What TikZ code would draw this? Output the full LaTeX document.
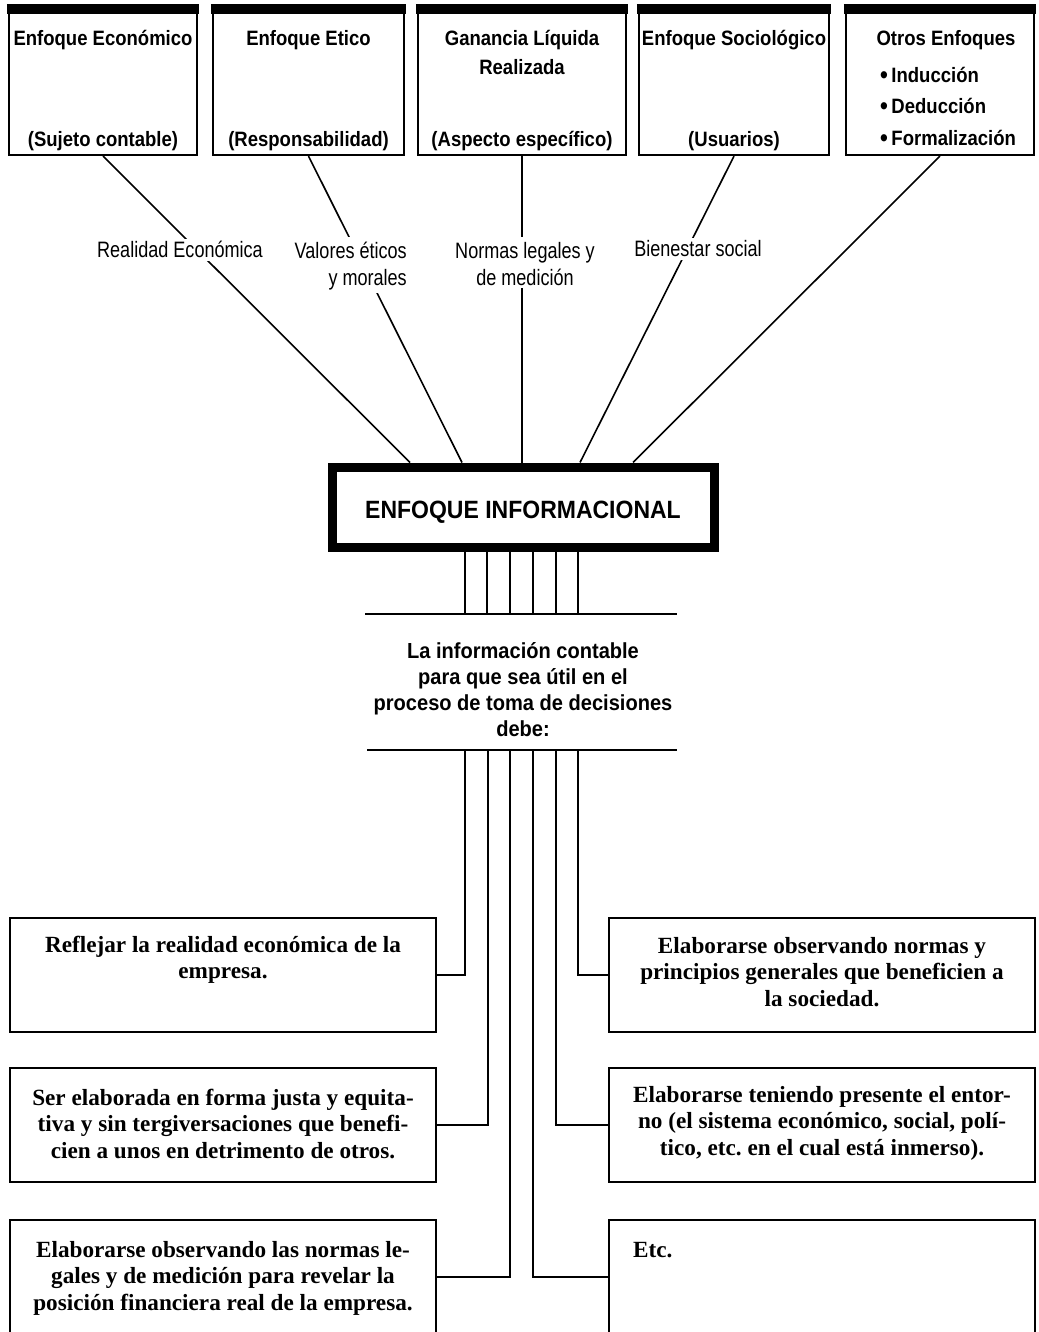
\documentclass[tikz,border=0pt]{standalone}
\usepackage{fontspec}
\newfontfamily\fhbold[FakeStretch=0.89]{Liberation Sans}
\newfontfamily\fhmid[FakeStretch=0.92]{Liberation Sans}
\newfontfamily\fhlight[FakeStretch=0.81]{Liberation Sans}
\newfontfamily\fserif{Liberation Serif}
\newcommand{\bigbul}{\raisebox{-0.5pt}{\fontsize{25}{25}\selectfont•}}
\begin{document}
\begin{tikzpicture}[x=1pt,y=-1pt,
  topbox/.style={draw,line width=2.2pt,inner sep=0pt,minimum width=#1,minimum height=145pt},
  lowbox/.style={draw,line width=2.2pt,inner sep=0pt,minimum width=426pt,minimum height=114pt},
  openbox/.style={inner sep=0pt,minimum width=426pt,minimum height=114pt},
  toptext/.style={inner sep=0pt,anchor=base,font=\fhbold\bfseries\fontsize{20.8}{23}\selectfont},
  lbl/.style={fill=white,inner sep=3pt,font=\fhlight\fontsize{22.3}{27}\selectfont},
  conn/.style={line width=1.6pt},
  link/.style={line width=2pt},
  serift/.style={inner sep=0pt,anchor=north,align=center,font=\fserif\bfseries\fontsize{23.2}{26.5}\selectfont}]
\fill[white] (0,0) rectangle (1038,1332);
\useasboundingbox (0,0) rectangle (1038,1332);

% top boxes
\node[topbox=188pt] (b1) at (103,82.5) {};
\node[topbox=191pt] (b2) at (308.5,82.5) {};
\node[topbox=208pt] (b3) at (522,82.5) {};
\node[topbox=190pt] (b4) at (734,82.5) {};
\node[topbox=188pt] (b5) at (940,82.5) {};
\foreach \b in {b1,b2,b3,b4,b5}
  \draw[line width=10pt] ([xshift=-1.1pt]\b.north west) -- ([xshift=1.1pt]\b.north east);

\node[toptext] (t1a) at (103,46) {Enfoque Económico};
\node[toptext] (t1b) at (103,147) {(Sujeto contable)};
\node[toptext] (t2a) at (308.5,46) {Enfoque Etico};
\node[toptext] (t2b) at (308.5,147) {(Responsabilidad)};
\node[toptext] (t3a) at (522,46) {Ganancia Líquida};
\node[toptext] (t3b) at (522,75) {Realizada};
\node[toptext] (t3c) at (522,147) {(Aspecto específico)};
\node[toptext] (t4a) at (734,46) {Enfoque Sociológico};
\node[toptext] (t4b) at (734,147) {(Usuarios)};
\node[toptext] (t5a) at (946,46) {Otros Enfoques};
\node[toptext,anchor=base west] (t5b) at (880,83) {\bigbul\,Inducción};
\node[toptext,anchor=base west] (t5c) at (880,114) {\bigbul\,Deducción};
\node[toptext,anchor=base west] (t5d) at (880,146) {\bigbul\,Formalización};

% central box
\node[draw,line width=9pt,inner sep=0pt,minimum width=382pt,minimum height=80pt] (info) at (523,507) {};
\node[inner sep=0pt,anchor=base,font=\fhmid\bfseries\fontsize{25}{28}\selectfont] (infot) at (523,518) {ENFOQUE INFORMACIONAL};

% connectors from top boxes
\draw[conn] (b1.south) -- ([xshift=-113pt]info.north);
\draw[conn] (b2.south) -- ([xshift=-61pt]info.north);
\draw[conn] (b3.south) -- ([xshift=-1pt]info.north);
\draw[conn] (b4.south) -- ([xshift=57pt]info.north);
\draw[conn] (b5.south) -- ([xshift=110pt]info.north);

% labels on connectors
\node[lbl,anchor=base] (l1) at (180,258) {Realidad Económica};
\node[lbl,anchor=north east,align=right] (l2) at (410,237) {\rule{0pt}{18pt}Valores éticos\\y morales};
\node[lbl,anchor=north,align=center] (l3) at (525,237) {\rule{0pt}{18pt}Normas legales y\\de medición};
\node[lbl,anchor=base] (l4) at (698,257) {Bienestar social};

% middle block
\coordinate (h1a) at (365,614);
\coordinate (h1b) at (677,614);
\coordinate (h2a) at (367,750);
\coordinate (h2b) at (677,750);
\draw[link] (h1a) -- (h1b);
\draw[link] (h2a) -- (h2b);
\foreach \d in {-58,-36,-13,10,33,55}
  \draw[link] ([xshift=\d pt]info.south) -- ([xshift=\d pt]info.south |- h1a);
\node[inner sep=0pt,anchor=north,align=center,font=\fhmid\bfseries\fontsize{21.8}{26}\selectfont] (debe) at (523,640)
  {\rule{0pt}{18pt}La información contable\\para que sea útil en el\\proceso de toma de decisiones\\debe:};

% lower boxes
\node[lowbox] (L1) at (223,975) {};
\node[lowbox] (L2) at (223,1125) {};
\node[openbox] (L3) at (223,1277) {};
\node[lowbox] (R1) at (822,975) {};
\node[lowbox] (R2) at (822,1125) {};
\node[openbox] (R3) at (822,1277) {};
\draw[line width=2.2pt] (L3.south west) -- (L3.north west) -- (L3.north east) -- (L3.south east);
\draw[line width=2.2pt] (R3.south west) -- (R3.north west) -- (R3.north east) -- (R3.south east);

\coordinate (v1) at (465,750);
\coordinate (v2) at (488,750);
\coordinate (v3) at (510,750);
\coordinate (v4) at (533,750);
\coordinate (v5) at (556,750);
\coordinate (v6) at (578,750);
\draw[link] (v1) |- (L1.east);
\draw[link] (v2) |- (L2.east);
\draw[link] (v3) |- (L3.east);
\draw[link] (v4) |- (R3.west);
\draw[link] (v5) |- (R2.west);
\draw[link] (v6) |- (R1.west);

\node[serift] (L1t) at (223,934) {\rule{0pt}{18pt}Reflejar la realidad económica de la\\empresa.};
\node[serift] (L2t) at (223,1087) {\rule{0pt}{18pt}Ser elaborada en forma justa y equita-\\tiva y sin tergiversaciones que benefi-\\cien a unos en detrimento de otros.};
\node[serift] (L3t) at (223,1239) {\rule{0pt}{18pt}Elaborarse observando las normas le-\\gales y de medición para revelar la\\posición financiera real de la empresa.};
\node[serift] (R1t) at (822,935) {\rule{0pt}{18pt}Elaborarse observando normas y\\principios generales que beneficien a\\la sociedad.};
\node[serift] (R2t) at (822,1084) {\rule{0pt}{18pt}Elaborarse teniendo presente el entor-\\no (el sistema económico, social, polí-\\tico, etc.\ en el cual está inmerso).};
\node[serift,anchor=base west] (R3t) at (633,1257) {Etc.};
\end{tikzpicture}
\end{document}
